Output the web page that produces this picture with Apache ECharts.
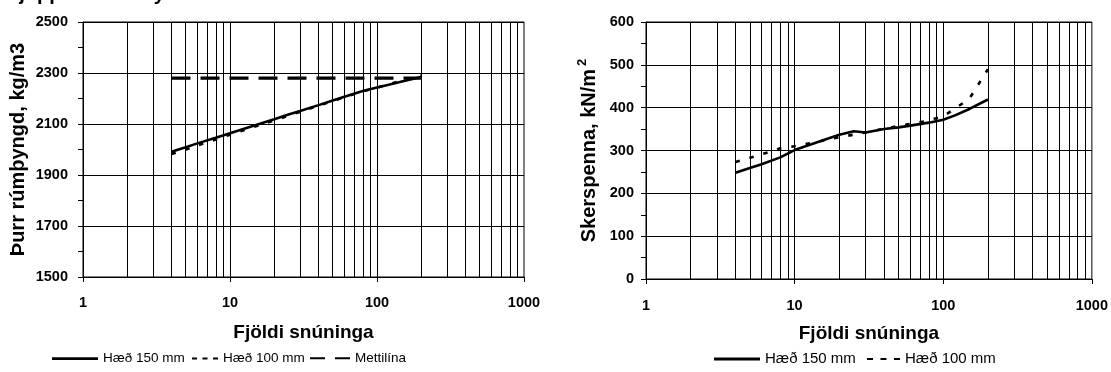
<!DOCTYPE html>
<html>
<head>
<meta charset="utf-8">
<script src="https://cdn.jsdelivr.net/npm/echarts@6/dist/echarts.min.js"></script>
<style>
html,body{margin:0;padding:0;background:#fff;}
#chart{width:1111px;height:372px;}
</style>
</head>
<body>
<div id="chart"></div>
<script>
// ---- data ----
const gyrations = [4, 5, 6, 8, 10, 15, 20, 25, 30, 40, 50, 60, 80, 100, 120, 150, 200];
const density150 = [1991, 2009, 2024, 2046, 2064, 2096, 2119, 2137, 2151, 2174, 2192, 2207, 2229, 2243, 2254, 2268, 2284];
const density100 = [1982, 2000, 2016, 2039, 2058, 2091, 2114, 2133, 2148, 2172, 2190, 2205, 2228, 2243, 2256, 2272, 2290];
const mettiX = [4, 200];
const mettiY = [2280, 2280];
const shear150 = [248, 259, 268, 284, 301, 322, 337, 345, 342, 350, 354, 358, 365, 372, 382, 397, 419];
const shear100 = [273, 283, 291, 305, 310, 322, 331, 337, 342, 351, 357, 362, 370, 380, 398, 421, 490];
const gridX = [2, 3, 4, 5, 6, 7, 8, 9, 10, 20, 30, 40, 50, 60, 70, 80, 90, 100, 200, 300, 400, 500, 600, 700, 800, 900];
const xMin = 1, xMax = 1000;
const leftYMin = 1500, leftYMax = 2500, leftYStep = 200;
const rightYMin = 0, rightYMax = 600, rightYStep = 100;
const topTitle = 'Þjöppun með Gyrator';
const xTitle = 'Fjöldi snúninga';
const leftYTitle = 'Þurr rúmþyngd, kg/m3';
const names = ['Hæð 150 mm', 'Hæð 100 mm', 'Mettilína'];

const FONT = '"Liberation Sans", Arial, sans-serif';
const pairs = (xs, ys) => xs.map((x, i) => [x, ys[i]]);
const plain = v => String(Math.round(v));

const chart = echarts.init(document.getElementById('chart'), null, {renderer: 'canvas'});

function xAxisCfg(gi, margin, gap) {
  return {
    gridIndex: gi, type: 'log', logBase: 10, min: xMin, max: xMax,
    axisLine: {show: true, onZero: false, lineStyle: {color: '#000', width: 1}},
    axisTick: {show: true, inside: false, length: 5, lineStyle: {color: '#000'}},
    minorTick: {show: false},
    axisLabel: {color: '#000', fontWeight: 'bold', fontSize: 14.5, fontFamily: FONT, margin: margin, formatter: plain},
    splitLine: {show: false},
    name: xTitle, nameLocation: 'middle', nameGap: gap,
    nameTextStyle: {color: '#000', fontWeight: 'bold', fontSize: 19, fontFamily: FONT}
  };
}
function yAxisCfg(gi, min, max, step, margin) {
  return {
    gridIndex: gi, type: 'value', min: min, max: max, interval: step,
    axisLine: {show: true, onZero: false, lineStyle: {color: '#000', width: 1}},
    axisTick: {show: true, inside: false, length: 5, lineStyle: {color: '#000'}},
    minorTick: {show: true, splitNumber: 2, length: 5, lineStyle: {color: '#000'}},
    minorSplitLine: {show: false},
    axisLabel: {color: '#000', fontWeight: 'bold', fontSize: 14.5, fontFamily: FONT, margin: margin, formatter: plain},
    splitLine: {show: true, lineStyle: {color: '#000', width: 1}}
  };
}
function gridSeries(ai) {
  return {
    type: 'line', xAxisIndex: ai, yAxisIndex: ai, data: [], silent: true, z: 1,
    markLine: {
      silent: true, symbol: 'none', animation: false,
      label: {show: false},
      lineStyle: {color: '#000', width: 1, type: 'solid'},
      data: gridX.map(v => ({xAxis: v}))
    }
  };
}
const solidStyle = {color: '#000', width: 2.6, type: 'solid'};
const shortDash = {color: '#000', width: 2.6, type: [4.5, 10]};
const longDash = {color: '#000', width: 3.3, type: [19, 10]};

function legendCfg(name, left, width, height, icon, fontSize) {
  return {
    data: [{name: name, icon: icon}], left: left, top: 353 - height / 2,
    itemWidth: width, itemHeight: height, itemGap: 0,
    padding: 0, textStyle: {color: '#000', fontSize: fontSize, fontFamily: FONT}, selectedMode: false,
    itemStyle: {color: '#000', borderWidth: 0}
  };
}
const iconSolid = 'rect';
const iconShortL = 'path://M0,0h5v2h-5z M10.5,0h5v2h-5z M21,0h5v2h-5z';
const iconShortR = 'path://M0,0h6v2h-6z M13.5,0h6v2h-6z M27,0h6v2h-6z';
const iconLong = 'path://M0,0h15v2h-15z M25,0h15v2h-15z';

const option = {
  animation: false,
  backgroundColor: '#fff',
  textStyle: {fontFamily: FONT},
  graphic: [{
    type: 'text', left: 6, top: -16,
    style: {text: topTitle, fontSize: 20, fontWeight: 'bold', fontFamily: FONT, fill: '#000'}
  }],
  grid: [
    {left: 83, right: 587, top: 22, bottom: 95, show: true, borderColor: '#000', borderWidth: 1, containLabel: false},
    {left: 646, right: 19, top: 22, bottom: 93, show: true, borderColor: '#000', borderWidth: 1, containLabel: false}
  ],
  xAxis: [xAxisCfg(0, 18, 46), xAxisCfg(1, 19, 45)],
  yAxis: [
    Object.assign(yAxisCfg(0, leftYMin, leftYMax, leftYStep, 15), {
      name: leftYTitle, nameLocation: 'middle', nameGap: 55, nameRotate: 90,
      nameTextStyle: {color: '#000', fontWeight: 'bold', fontSize: 20, fontFamily: FONT}
    }),
    Object.assign(yAxisCfg(1, rightYMin, rightYMax, rightYStep, 12), {
      name: '{a|Skerspenna, kN/m}{s|2}', nameLocation: 'middle', nameGap: 44, nameRotate: 90,
      nameTextStyle: {
        color: '#000', fontWeight: 'bold', fontSize: 20, fontFamily: FONT,
        rich: {
          a: {fontSize: 20, fontWeight: 'bold', fontFamily: FONT, color: '#000', lineHeight: 26},
          s: {fontSize: 13, fontWeight: 'bold', fontFamily: FONT, color: '#000', verticalAlign: 'top', lineHeight: 14, padding: [0, 0, 0, 3]}
        }
      }
    })
  ],
  legend: [
    legendCfg(names[0], 52, 46, 2.8, iconSolid, 13.5),
    legendCfg(names[1], 192, 26, 2.8, iconShortL, 13.5),
    legendCfg(names[2], 310, 40, 3.3, iconLong, 13.5),
    legendCfg(names[0], 714, 46, 3, iconSolid, 15),
    legendCfg(names[1], 867, 33, 3, iconShortR, 15)
  ],
  series: [
    gridSeries(0),
    gridSeries(1),
    {name: names[0], type: 'line', xAxisIndex: 0, yAxisIndex: 0, data: pairs(gyrations, density150),
     symbol: 'none', lineStyle: solidStyle, itemStyle: {color: '#000'}, z: 5},
    {name: names[1], type: 'line', xAxisIndex: 0, yAxisIndex: 0, data: pairs(gyrations, density100),
     symbol: 'none', lineStyle: shortDash, itemStyle: {color: '#000'}, z: 4},
    {name: names[2], type: 'line', xAxisIndex: 0, yAxisIndex: 0, data: pairs(mettiX, mettiY),
     symbol: 'none', lineStyle: longDash, itemStyle: {color: '#000'}, z: 4},
    {name: names[0], type: 'line', xAxisIndex: 1, yAxisIndex: 1, data: pairs(gyrations, shear150),
     symbol: 'none', lineStyle: solidStyle, itemStyle: {color: '#000'}, z: 5},
    {name: names[1], type: 'line', xAxisIndex: 1, yAxisIndex: 1, data: pairs(gyrations, shear100),
     symbol: 'none', lineStyle: shortDash, itemStyle: {color: '#000'}, z: 4}
  ]
};
chart.setOption(option);
</script>
</body>
</html>
